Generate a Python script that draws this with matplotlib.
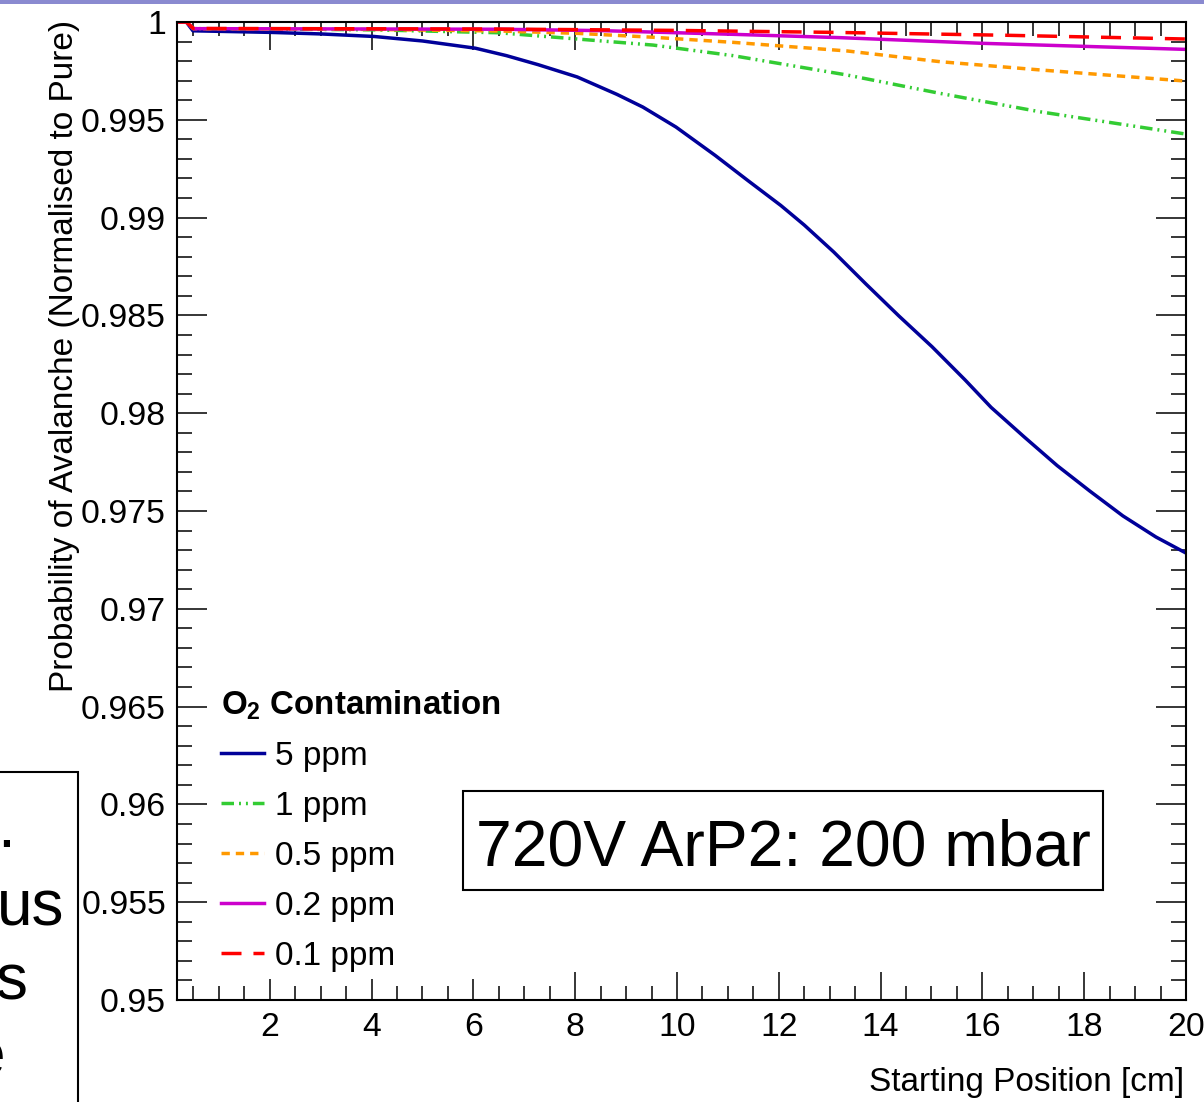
import matplotlib
matplotlib.use("Agg")
import matplotlib.pyplot as plt
from matplotlib.ticker import MultipleLocator, FuncFormatter
from matplotlib.patches import Rectangle

plt.rcParams['font.family'] = ['Liberation Sans', 'DejaVu Sans']
plt.rcParams['mathtext.fontset'] = 'custom'
plt.rcParams['mathtext.rm'] = 'Liberation Sans'
plt.rcParams['mathtext.bf'] = 'Liberation Sans:bold'
plt.rcParams['lines.scale_dashes'] = False

# data
x_5ppm = [0.18, 0.36, 0.49, 2.0, 3.0, 4.05, 5.0, 6.04, 6.65, 7.27, 8.04, 8.82, 9.33, 9.98,
          10.75, 11.39, 12.04, 12.50, 13.08, 13.71, 14.36, 15.01, 15.66, 16.17, 16.82,
          17.47, 18.11, 18.76, 19.41, 20.0]
y_5ppm = [1.0, 1.0, 0.99955, 0.99947, 0.99939, 0.99926, 0.99903, 0.99866, 0.99828, 0.99782,
          0.99719, 0.99630, 0.99565, 0.99463, 0.99318, 0.99190, 0.99062, 0.98962, 0.98824,
          0.98661, 0.98497, 0.98340, 0.98170, 0.98030, 0.97879, 0.97732, 0.97602, 0.97475,
          0.97367, 0.97285]

x_1ppm = [0.18, 0.36, 0.5, 2.0, 4.03, 6.5, 8.04, 9.53, 11.1, 13.34, 15.17, 17.13, 20.0]
y_1ppm = [1.0, 1.0, 0.99966, 0.99964, 0.9996, 0.99945, 0.99913, 0.99882, 0.99828, 0.99729,
          0.99635, 0.99541, 0.99427]

x_05ppm = [0.18, 0.36, 0.5, 4.0, 6.52, 8.04, 9.53, 11.1, 13.34, 15.17, 17.13, 20.0]
y_05ppm = [1.0, 1.0, 0.99966, 0.99962, 0.99954, 0.99942, 0.99922, 0.99896, 0.99852, 0.99797,
           0.99755, 0.99698]

x_02ppm = [0.18, 0.36, 0.5, 6.5, 8.5, 11.1, 13.2, 16.0, 20.0]
y_02ppm = [1.0, 1.0, 0.99966, 0.99963, 0.99956, 0.99937, 0.9992, 0.99891, 0.9986]

x_01ppm = [0.18, 0.36, 0.5, 6.5, 10.0, 13.07, 16.5, 20.0]
y_01ppm = [1.0, 1.0, 0.99967, 0.99964, 0.99957, 0.99947, 0.99932, 0.99913]

labels = ['5 ppm', '1 ppm', '0.5 ppm', '0.2 ppm', '0.1 ppm']
colors = ['#000099', '#33cc33', '#ff9900', '#cc00cc', '#ff0000']

W, H = 1204, 1102
fig = plt.figure(figsize=(W / 100, H / 100), dpi=100)
ax = fig.add_axes([177 / W, 1 - 1000 / H, (1186 - 177) / W, (1000 - 22) / H])

lw = 2.5
ax.plot(x_5ppm, y_5ppm, color=colors[0], lw=lw, label=labels[0])
ax.plot(x_1ppm, y_1ppm, color=colors[1], lw=lw, label=labels[1],
        dashes=(9, 3.6, 1.4, 3.6, 1.4, 3.6))
ax.plot(x_05ppm, y_05ppm, color=colors[2], lw=lw, label=labels[2], dashes=(6, 4.3))
ax.plot(x_02ppm, y_02ppm, color=colors[3], lw=lw, label=labels[3])
ax.plot(x_01ppm, y_01ppm, color=colors[4], lw=lw, label=labels[4], dashes=(14.4, 8.6))

ax.set_xlim(0.177, 20)
ax.set_ylim(0.95, 1.0)
ax.xaxis.set_major_locator(MultipleLocator(2))
ax.xaxis.set_minor_locator(MultipleLocator(0.5))
ax.yaxis.set_major_locator(MultipleLocator(0.005))
ax.yaxis.set_minor_locator(MultipleLocator(0.001))
fmt = FuncFormatter(lambda v, p: '%g' % round(v, 4))
ax.xaxis.set_major_formatter(fmt)
ax.yaxis.set_major_formatter(fmt)
ax.tick_params(which='both', direction='in', top=True, right=True, width=1.1,
               labelsize=24.3, colors='black')
ax.tick_params(axis='x', which='major', length=20, pad=9)
ax.tick_params(axis='x', which='minor', length=10)
ax.tick_params(axis='y', which='major', length=21.6, pad=8)
ax.tick_params(axis='y', which='minor', length=10.8)
for s in ax.spines.values():
    s.set_linewidth(1.5)

leg = ax.legend(loc='upper left', bbox_to_anchor=(214 / W, 1 - 682 / H),
                bbox_transform=fig.transFigure, fontsize=24,
                title='$\\mathbf{O_2}$ Contamination',
                title_fontproperties={'weight': 'bold', 'size': 23.8},
                alignment='left', handlelength=1.3, handletextpad=0.33,
                labelspacing=0.57, borderpad=0.2, borderaxespad=0,
                frameon=True, fancybox=False, facecolor='white', edgecolor='none',
                framealpha=1)

# label box
ax.add_artist(Rectangle((463 / W, 1 - 890 / H), 640 / W, 99 / H, transform=fig.transFigure,
                        facecolor='white', edgecolor='black', lw=1.5, zorder=10))
ax.text(783 / W, 1 - 866 / H, '720V ArP2: 200 mbar', transform=fig.transFigure,
        fontsize=46.3, ha='center', va='baseline', zorder=11)

fig.text(65 / W, 1 - 20 / H, 'Probability of Avalanche (Normalised to Pure)',
         rotation=90, ha='center', va='top', fontsize=24)
fig.text(1184 / W, 1 - 1082 / H, 'Starting Position [cm]', ha='right', va='center',
         fontsize=24)

# slide decorations around the cropped plot
fig.add_artist(Rectangle((0, 1 - 4 / H), 1, 4 / H, transform=fig.transFigure,
                         facecolor='#8a8ad0', edgecolor='none'))
fig.add_artist(Rectangle((-20 / W, -20 / H), 98 / W, (1102 - 772 + 20) / H,
                         transform=fig.transFigure, facecolor='none',
                         edgecolor='black', lw=1.5))
for txt, xr, yb in [('.', 15, 847), ('us', 64, 925), ('s', 27, 1000), ('e', 5, 1076)]:
    fig.text(xr / W, 1 - yb / H, txt, ha='right', va='baseline', fontsize=46)

fig.savefig('out.png', dpi=100)
